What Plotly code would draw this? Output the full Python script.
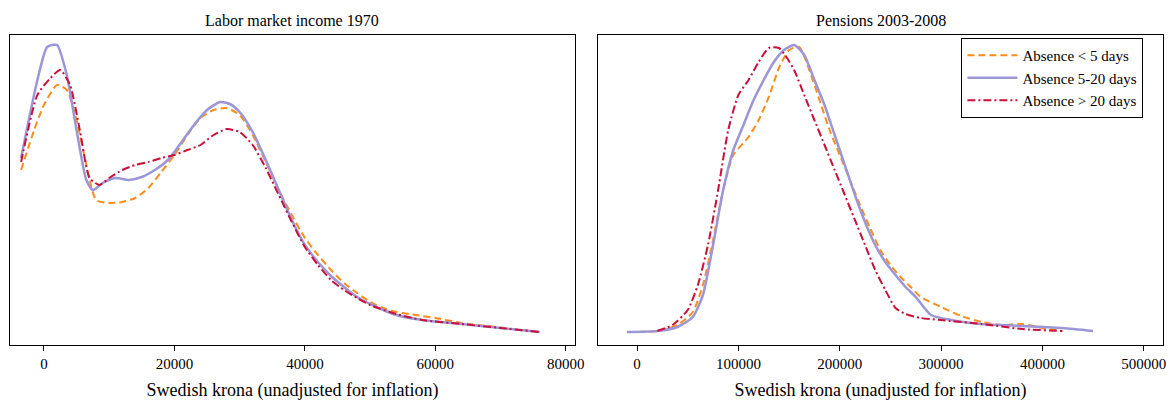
import plotly.graph_objects as go
from plotly.subplots import make_subplots

# left panel: labor market income 1970 (density in arbitrary units)
inc_x_low = [-3500,-1500,0,2000,3500,5000,6500,8000,10000,12000,14000,16000,18000,20000,22000,24000,26000,28000,30000,32000,34000,36000,38000,40000,42000,44000,46000,48000,50000,52000,54000,56000,58000,60000,64000,68000,72000,76000]
inc_y_low = [170,130,105,85,90,120,165,200,203,202,198,188,172,155,135,118,110,108,115,135,162,190,215,238,255,270,283,293,302,308,312,314,316,318,323,326,329,332]
inc_x_mid = [-3500,-1000,500,2000,3500,5000,6500,7500,9000,11000,13000,15000,17000,19000,21000,23000,25000,27000,28500,30000,32000,34000,36000,38000,40000,42000,44000,46000,48000,50000,54000,58000,64000,70000,76000]
inc_y_mid = [158,80,47,45,75,130,180,190,183,178,180,177,170,160,143,125,110,102,104,112,132,160,190,220,245,262,276,287,297,304,315,320,324,328,332]
inc_x_high = [-3500,-1000,1000,2500,4000,5500,7000,8500,10000,12000,14000,16000,18000,20000,22000,24000,26000,28000,30000,32000,34000,36000,38000,40000,42000,44000,46000,48000,50000,54000,58000,64000,70000,76000]
inc_y_high = [162,95,78,70,85,130,178,185,178,170,165,162,158,155,150,145,135,129,132,145,168,195,222,247,265,280,290,298,305,314,320,324,328,332]

# right panel: pensions 2003-2008
pen_x_low = [-10000,20000,40000,55000,65000,75000,85000,95000,110000,120000,130000,140000,150000,160000,170000,180000,190000,200000,210000,220000,230000,240000,250000,260000,270000,280000,300000,320000,340000,360000,380000,400000,420000]
pen_y_low = [332,331,325,312,285,240,190,155,137,120,97,68,50,47,70,100,130,155,180,205,228,250,265,277,287,297,307,316,322,325,324,328,331]
pen_x_mid = [-10000,20000,40000,55000,65000,75000,85000,95000,105000,115000,125000,135000,145000,155000,165000,175000,185000,195000,205000,215000,225000,235000,245000,255000,265000,275000,290000,310000,340000,380000,420000,450000]
pen_y_mid = [332,331,327,317,295,245,190,150,125,100,80,62,50,45,55,80,105,135,165,195,222,245,262,275,287,297,315,320,324,326,328,331]
pen_x_high = [20000,35000,50000,60000,70000,80000,90000,100000,110000,120000,130000,140000,148000,155000,165000,175000,185000,195000,205000,215000,225000,235000,245000,255000,265000,280000,300000,340000,380000,420000]
pen_y_high = [331,325,310,285,245,190,130,95,80,62,48,48,58,70,95,120,145,170,195,220,245,270,290,308,314,318,320,324,329,331]

names = ["Absence < 5 days", "Absence 5-20 days", "Absence > 20 days"]
colors = ["#ff8c1a", "#9b96d8", "#c8103a"]
dashes = ["7px,4px", "solid", "8px,3px,2px,3px"]
widths = [2, 2.5, 2]

def dens(v):
    # pixel offsets -> height above baseline
    return [345 - y for y in v]

fig = make_subplots(rows=1, cols=2, horizontal_spacing=0.02,
                    subplot_titles=("Labor market income 1970", "Pensions 2003-2008"))

left = [(inc_x_low, inc_y_low), (inc_x_mid, inc_y_mid), (inc_x_high, inc_y_high)]
right = [(pen_x_low, pen_y_low), (pen_x_mid, pen_y_mid), (pen_x_high, pen_y_high)]
for i in range(3):
    fig.add_trace(go.Scatter(x=left[i][0], y=dens(left[i][1]), mode="lines", name=names[i],
                             line=dict(color=colors[i], dash=dashes[i], width=widths[i], shape="spline", smoothing=0.6),
                             showlegend=False), row=1, col=1)
    fig.add_trace(go.Scatter(x=right[i][0], y=dens(right[i][1]), mode="lines", name=names[i],
                             line=dict(color=colors[i], dash=dashes[i], width=widths[i], shape="spline", smoothing=0.6)),
                  row=1, col=2)

axis_style = dict(showline=True, linecolor="black", linewidth=1, mirror=True, showgrid=False,
                  zeroline=False, ticks="outside", ticklen=5, tickcolor="black", tickformat="d",
                  title_standoff=12, automargin=False)
fig.update_xaxes(**axis_style, title_text="Swedish krona (unadjusted for inflation)")
fig.update_xaxes(range=[-5200, 81400], tickvals=[0, 20000, 40000, 60000, 80000], row=1, col=1)
fig.update_xaxes(range=[-38500, 519000], tickvals=[0, 100000, 200000, 300000, 400000, 500000], row=1, col=2)
fig.update_yaxes(showline=True, linecolor="black", linewidth=1, mirror=True, showgrid=False,
                 zeroline=False, showticklabels=False, range=[0, 310], automargin=False)

fig.update_layout(
    width=1167, height=393,
    margin=dict(l=2, r=12, t=27, b=56, autoexpand=False),
    paper_bgcolor="white", plot_bgcolor="white",
    font=dict(family="Liberation Serif", size=15, color="black"),
    legend=dict(x=0.983, y=0.99, xanchor="right", yanchor="top", bordercolor="black",
                borderwidth=1, bgcolor="white", font=dict(size=15), itemwidth=50),
)
fig.update_annotations(font=dict(family="Liberation Serif", size=16, color="black"), yshift=4)

fig.write_html("out.html")
